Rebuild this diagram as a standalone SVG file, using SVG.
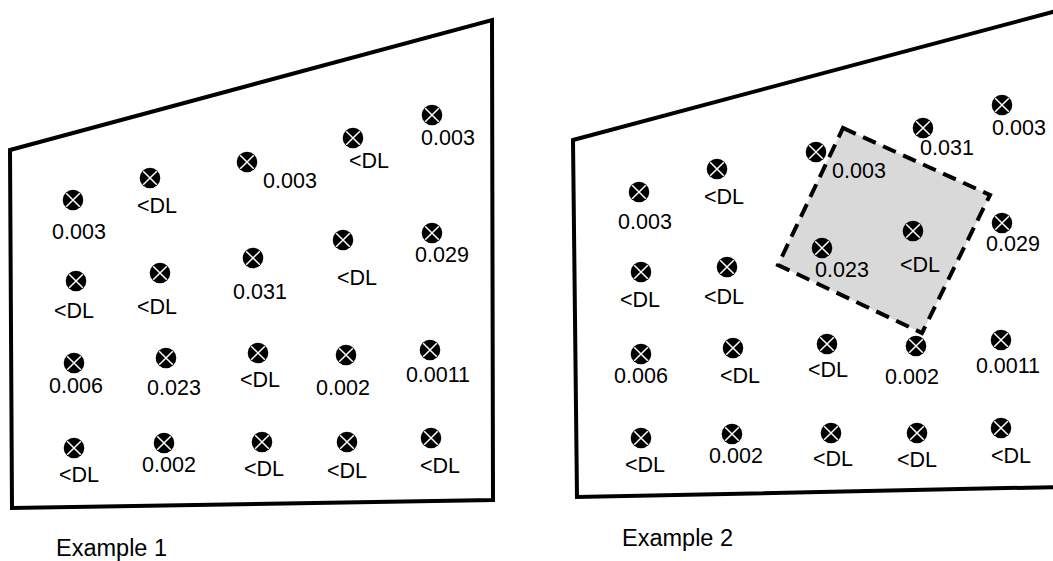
<svg xmlns="http://www.w3.org/2000/svg" xmlns:xlink="http://www.w3.org/1999/xlink" width="1053" height="561" viewBox="0 0 1053 561">
<style>
.frame{fill:none;stroke:#000;stroke-width:4;stroke-linejoin:miter}
.zone{fill:#d9d9d9;stroke:#000;stroke-width:4;stroke-dasharray:14 8}
.lbl{font-family:"Liberation Sans",Arial,sans-serif;font-size:21.5px;fill:#000;text-anchor:middle}
.cap{font-family:"Liberation Sans",Arial,sans-serif;font-size:23.5px;fill:#000}
</style>
<defs>
<g id="pt">
<circle r="10.3" fill="#000"/>
<path d="M-6.8-6.8L6.8 6.8M6.8-6.8L-6.8 6.8" stroke="#fff" stroke-width="1.5"/>
</g>
</defs>
<rect width="1053" height="561" fill="#fff"/>
<g id="example1">
<polygon class="frame" points="10,150 492,20 493,500 12,508"/>
<text class="cap" x="56" y="556">Example 1</text>
</g>
<g id="example2">
<polygon class="frame" points="573,140 1060,10 1060,487 577,497"/>
<polygon id="zone" class="zone" points="843,128 990,195 922,333 778,265"/>
<text class="cap" x="622" y="546">Example 2</text>
</g>
<g id="connectors"></g>
<g id="e1-n1"><use xlink:href="#pt" x="73" y="200"/><text class="lbl" x="79" y="239">0.003</text></g>
<g id="e1-n2"><use xlink:href="#pt" x="150" y="178"/><text class="lbl" x="157" y="213">&lt;DL</text></g>
<g id="e1-n3"><use xlink:href="#pt" x="247" y="162"/><text class="lbl" x="290" y="188">0.003</text></g>
<g id="e1-n4"><use xlink:href="#pt" x="353" y="138"/><text class="lbl" x="369" y="168">&lt;DL</text></g>
<g id="e1-n5"><use xlink:href="#pt" x="432" y="115"/><text class="lbl" x="448" y="145">0.003</text></g>
<g id="e1-n6"><use xlink:href="#pt" x="432" y="233"/><text class="lbl" x="442" y="262">0.029</text></g>
<g id="e1-n7"><use xlink:href="#pt" x="343" y="240"/><text class="lbl" x="357" y="285">&lt;DL</text></g>
<g id="e1-n8"><use xlink:href="#pt" x="253" y="258"/><text class="lbl" x="260" y="299">0.031</text></g>
<g id="e1-n9"><use xlink:href="#pt" x="160" y="273"/><text class="lbl" x="157" y="314">&lt;DL</text></g>
<g id="e1-n10"><use xlink:href="#pt" x="76" y="281"/><text class="lbl" x="74" y="318">&lt;DL</text></g>
<g id="e1-n11"><use xlink:href="#pt" x="74" y="363"/><text class="lbl" x="76" y="393">0.006</text></g>
<g id="e1-n12"><use xlink:href="#pt" x="166" y="358"/><text class="lbl" x="174" y="395">0.023</text></g>
<g id="e1-n13"><use xlink:href="#pt" x="258" y="353"/><text class="lbl" x="260" y="387">&lt;DL</text></g>
<g id="e1-n14"><use xlink:href="#pt" x="346" y="355"/><text class="lbl" x="343" y="395">0.002</text></g>
<g id="e1-n15"><use xlink:href="#pt" x="430" y="350"/><text class="lbl" x="438" y="382">0.0011</text></g>
<g id="e1-n16"><use xlink:href="#pt" x="74" y="448"/><text class="lbl" x="79" y="482">&lt;DL</text></g>
<g id="e1-n17"><use xlink:href="#pt" x="164" y="443"/><text class="lbl" x="169" y="472">0.002</text></g>
<g id="e1-n18"><use xlink:href="#pt" x="262" y="442"/><text class="lbl" x="264" y="476">&lt;DL</text></g>
<g id="e1-n19"><use xlink:href="#pt" x="347" y="442"/><text class="lbl" x="347" y="478">&lt;DL</text></g>
<g id="e1-n20"><use xlink:href="#pt" x="431" y="438"/><text class="lbl" x="440" y="473">&lt;DL</text></g>
<g id="e2-n1"><use xlink:href="#pt" x="639" y="192"/><text class="lbl" x="645" y="229">0.003</text></g>
<g id="e2-n2"><use xlink:href="#pt" x="717" y="169"/><text class="lbl" x="724" y="204">&lt;DL</text></g>
<g id="e2-n3"><use xlink:href="#pt" x="816" y="152"/><text class="lbl" x="859" y="178">0.003</text></g>
<g id="e2-n4"><use xlink:href="#pt" x="923" y="128"/><text class="lbl" x="947" y="155">0.031</text></g>
<g id="e2-n5"><use xlink:href="#pt" x="1002" y="105"/><text class="lbl" x="1019" y="135">0.003</text></g>
<g id="e2-n6"><use xlink:href="#pt" x="1002" y="223"/><text class="lbl" x="1013" y="251">0.029</text></g>
<g id="e2-n7"><use xlink:href="#pt" x="913" y="231"/><text class="lbl" x="920" y="272">&lt;DL</text></g>
<g id="e2-n8"><use xlink:href="#pt" x="822" y="248"/><text class="lbl" x="842" y="277">0.023</text></g>
<g id="e2-n9"><use xlink:href="#pt" x="727" y="267"/><text class="lbl" x="724" y="304">&lt;DL</text></g>
<g id="e2-n10"><use xlink:href="#pt" x="641" y="272"/><text class="lbl" x="640" y="307">&lt;DL</text></g>
<g id="e2-n11"><use xlink:href="#pt" x="641" y="354"/><text class="lbl" x="641" y="383">0.006</text></g>
<g id="e2-n12"><use xlink:href="#pt" x="733" y="348"/><text class="lbl" x="740" y="383">&lt;DL</text></g>
<g id="e2-n13"><use xlink:href="#pt" x="827" y="344"/><text class="lbl" x="828" y="377">&lt;DL</text></g>
<g id="e2-n14"><use xlink:href="#pt" x="916" y="346"/><text class="lbl" x="912" y="384">0.002</text></g>
<g id="e2-n15"><use xlink:href="#pt" x="1001" y="340"/><text class="lbl" x="1008" y="373">0.0011</text></g>
<g id="e2-n16"><use xlink:href="#pt" x="641" y="438"/><text class="lbl" x="645" y="472">&lt;DL</text></g>
<g id="e2-n17"><use xlink:href="#pt" x="732" y="434"/><text class="lbl" x="736" y="463">0.002</text></g>
<g id="e2-n18"><use xlink:href="#pt" x="831" y="433"/><text class="lbl" x="833" y="466">&lt;DL</text></g>
<g id="e2-n19"><use xlink:href="#pt" x="917" y="433"/><text class="lbl" x="917" y="467">&lt;DL</text></g>
<g id="e2-n20"><use xlink:href="#pt" x="1001" y="428"/><text class="lbl" x="1011" y="463">&lt;DL</text></g>
</svg>
